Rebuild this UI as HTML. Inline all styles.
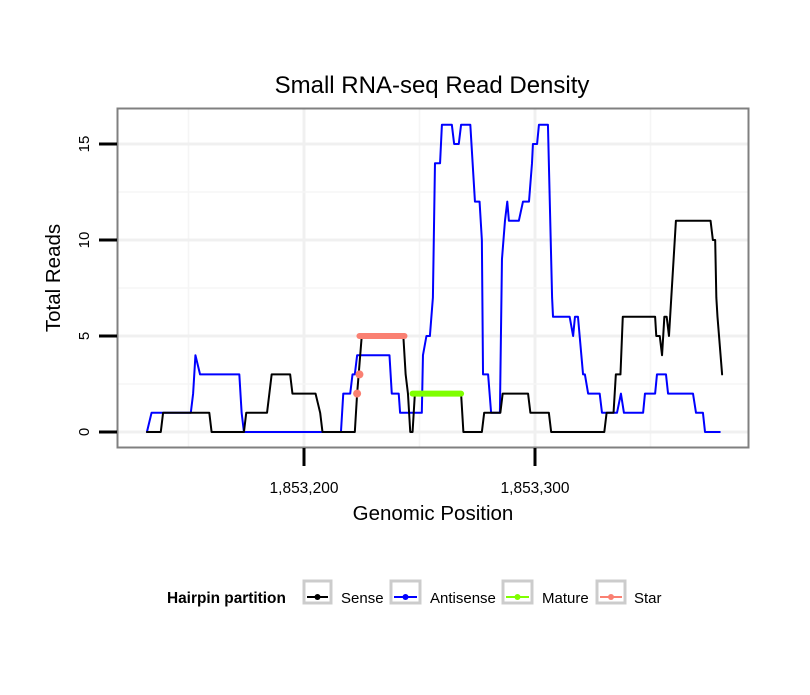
<!DOCTYPE html>
<html><head><meta charset="utf-8"><style>
body{margin:0;background:#fff;}
svg text{font-family:"Liberation Sans",sans-serif;}
</style></head><body>
<svg id="chart" width="810" height="690" xmlns="http://www.w3.org/2000/svg">
<rect width="810" height="690" fill="#fff"/>
<text x="432" y="93" font-size="24" text-anchor="middle">Small RNA-seq Read Density</text>
<g id="grid"></g>
<g id="series"></g>
<rect x="117.5" y="108.5" width="631" height="339" fill="none" stroke="#808080" stroke-width="2"/>
<g id="axes"></g>
<text x="433" y="520" font-size="20.5" text-anchor="middle">Genomic Position</text>
<text transform="translate(60,278) rotate(-90)" font-size="20.5" text-anchor="middle">Total Reads</text>
<g>
<text x="167" y="603" font-size="15.4" font-weight="bold">Hairpin partition</text>
<g><rect x="304" y="581" width="27" height="22" fill="#fff" stroke="#ccc" stroke-width="3"/><line x1="307" y1="597" x2="328" y2="597" stroke="#000" stroke-width="2"/><circle cx="317.5" cy="597" r="3" fill="#000"/><text x="341" y="603" font-size="15">Sense</text></g>
<g><rect x="391" y="581" width="29" height="22" fill="#fff" stroke="#ccc" stroke-width="3"/><line x1="394" y1="597" x2="417" y2="597" stroke="#00f" stroke-width="2"/><circle cx="405.5" cy="597" r="3" fill="#00f"/><text x="430" y="603" font-size="15">Antisense</text></g>
<g><rect x="503" y="581" width="29" height="22" fill="#fff" stroke="#ccc" stroke-width="3"/><line x1="506" y1="597" x2="529" y2="597" stroke="#7fff00" stroke-width="2"/><circle cx="517.5" cy="597" r="3" fill="#7fff00"/><text x="542" y="603" font-size="15">Mature</text></g>
<g><rect x="597" y="581" width="28" height="22" fill="#fff" stroke="#ccc" stroke-width="3"/><line x1="600" y1="597" x2="622" y2="597" stroke="#fa8072" stroke-width="2"/><circle cx="611" cy="597" r="3" fill="#fa8072"/><text x="634" y="603" font-size="15">Star</text></g>
</g>
</svg>
<script>
const xTicks=[1853200,1853300];
const xTickLabels=["1,853,200","1,853,300"];
const yTicks=[0,5,10,15];
const senseX=[1853132,1853138,1853139,1853159,1853160,1853174,1853175,1853184,1853186,1853194,1853195,1853205,1853206,1853207,1853208,1853222,1853223,1853225,1853243,1853244,1853245,1853246,1853247,1853248,1853268,1853269,1853277,1853278,1853285,1853286,1853297,1853298,1853306,1853307,1853330,1853331,1853334,1853335,1853337,1853338,1853352,1853352.5,1853354,1853355,1853356,1853357,1853358,1853359,1853361,1853376,1853377,1853378,1853378.5,1853379,1853381];
const senseY=[0,0,1,1,0,0,1,1,3,3,2,2,1.5,1,0,0,2,5,5,3,2,0,0,2,2,0,0,1,1,2,2,1,1,0,0,1,1,3,3,6,6,5,5,4,6,6,5,7,11,11,10,10,7,6,3];
const antiX=[1853132,1853134,1853151,1853152,1853153,1853155,1853172,1853173,1853174,1853216,1853217,1853220,1853221,1853222,1853223,1853237,1853238,1853241,1853241.6,1853251,1853251.5,1853253,1853254.5,1853255.8,1853256.7,1853258.9,1853259.7,1853264,1853265,1853267,1853268,1853272,1853274,1853276,1853277,1853277.5,1853279.7,1853281,1853284.8,1853285.7,1853287,1853288,1853288.7,1853293,1853294.8,1853297.4,1853298.7,1853299.1,1853300.9,1853301.7,1853305.6,1853307.4,1853307.8,1853315,1853316.5,1853317.3,1853318.6,1853320.8,1853321.6,1853323,1853328,1853329,1853335.5,1853337.2,1853338.5,1853346.8,1853347.6,1853352,1853352.8,1853356.7,1853357.6,1853368.4,1853369.7,1853372.7,1853373.6,1853380];
const antiY=[0,1,1,2,4,3,3,1,0,0,2,2,3,3,4,4,2,2,1,1,4,5,5,7,14,14,16,16,15,15,16,16,12,12,10,3,3,1,1,9,11,12,11,11,12,12,14,15,15,16,16,7,6,6,5,6,6,3,3,2,2,1,1,2,1,1,2,2,3,3,2,2,1,1,0,0];
const matureX=[1853247,1853268];
const matureY=[2,2];
const starX=[1853223,1853224,1853224,1853243.5];
const starY=[2,3,5,5];

const NS="http://www.w3.org/2000/svg";
const sx=v=>304+(v-1853200)*2.31;
const sy=v=>432-v*19.2;
function mk(tag,attrs,parent){const e=document.createElementNS(NS,tag);for(const k in attrs)e.setAttribute(k,attrs[k]);parent.appendChild(e);return e;}
const grid=document.getElementById('grid'),ser=document.getElementById('series'),axes=document.getElementById('axes');
[1853150,1853250,1853350].forEach(v=>{const l=mk('line',{x1:sx(v),x2:sx(v),y1:109,y2:447,stroke:'#f5f5f5','stroke-width':1.5},grid);

});
xTicks.forEach(v=>{const l=mk('line',{x1:sx(v),x2:sx(v),y1:109,y2:447,stroke:'#f0f0f0','stroke-width':3},grid);

});
[2.5,7.5,12.5].forEach(v=>{const l=mk('line',{x1:118,x2:748,y1:sy(v),y2:sy(v),stroke:'#f5f5f5','stroke-width':1.5},grid);

});
yTicks.forEach(v=>{const l=mk('line',{x1:118,x2:748,y1:sy(v),y2:sy(v),stroke:'#f0f0f0','stroke-width':3},grid);

});
function line(xs,ys,col,w,name){const p=mk('polyline',{points:xs.map((x,i)=>sx(x)+','+sy(ys[i])).join(' '),fill:'none',stroke:col,'stroke-width':w,'stroke-linejoin':'round','stroke-linecap':'round'},ser);

}
line(antiX,antiY,'#0000ff',2,'antisense-line');
line(senseX,senseY,'#000000',2,'sense-line');
line(matureX,matureY,'#7fff00',6,'mature-line');
line(starX.slice(2),starY.slice(2),'#fa8072',6,'star-line');
starX.slice(0,2).forEach((x,i)=>{const c=mk('circle',{cx:sx(x),cy:sy(starY[i]),r:4,fill:'#fa8072'},ser);

});
yTicks.forEach(v=>{const t=mk('line',{x1:99,x2:117,y1:sy(v),y2:sy(v),stroke:'#000','stroke-width':3},axes);


const tx=mk('text',{transform:`translate(89,${sy(v)}) rotate(-90)`,'font-size':15,'text-anchor':'middle'},axes);tx.textContent=v;

});
xTicks.forEach((v,i)=>{const t=mk('line',{x1:sx(v),x2:sx(v),y1:448,y2:466,stroke:'#000','stroke-width':3},axes);


const tx=mk('text',{x:sx(v),y:493,'font-size':15.5,'text-anchor':'middle'},axes);tx.textContent=xTickLabels[i];

});
</script>
</body></html>
